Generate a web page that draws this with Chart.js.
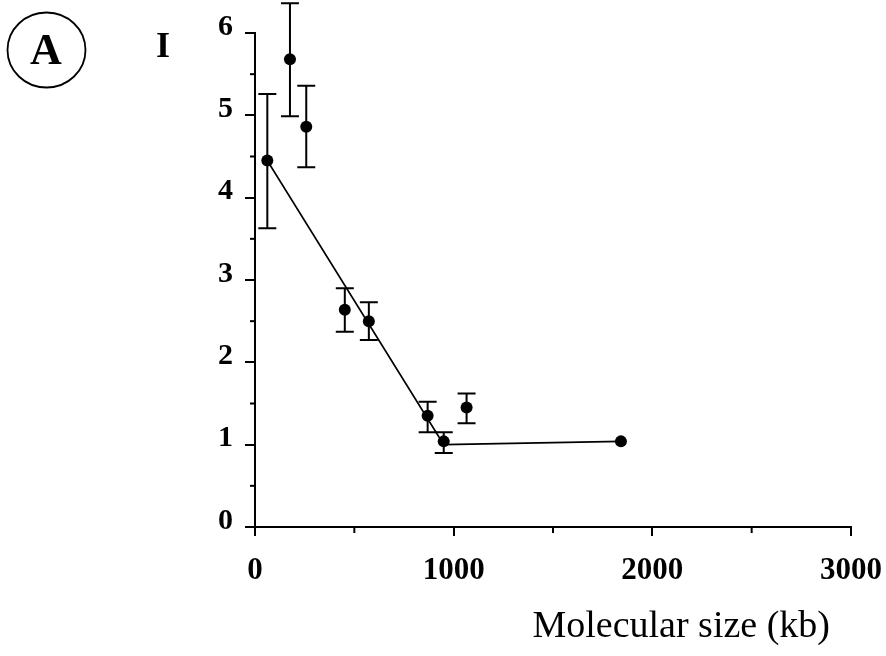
<!DOCTYPE html>
<html>
<head>
<meta charset="utf-8">
<script src="https://cdn.jsdelivr.net/npm/chart.js@4/dist/chart.umd.min.js"></script>
<style>
  html, body { margin: 0; padding: 0; background: #ffffff; }
  #wrap { width: 886px; height: 656px; }
</style>
</head>
<body>
<div id="wrap"><canvas id="c" width="886" height="656"></canvas></div>
<script>
// ---- data ----
const sizes   = [62, 176, 258, 452, 573, 869, 950, 1065, 1842];   // molecular size (kb)
const ratio   = [4.45, 5.68, 4.86, 2.64, 2.50, 1.35, 1.04, 1.45, 1.04];
const errHigh = [5.26, 6.36, 5.36, 2.90, 2.73, 1.52, 1.15, 1.62, null];
const errLow  = [3.63, 4.99, 4.37, 2.37, 2.27, 1.15, 0.90, 1.26, null];
const fitX    = [62, 950, 1842];
const fitY    = [4.45, 1.00, 1.04];
const xTickValues = [0, 1000, 2000, 3000];
const yTickValues = [0, 1, 2, 3, 4, 5, 6];
const xTitle = 'Molecular size (kb)';
const panelLetter = 'A';
const yLabel = 'I';

const serif = '"Liberation Serif", "DejaVu Serif", serif';

const pointData = sizes.map((x, i) => ({ x: x, y: ratio[i] }));
const fitData = fitX.map((x, i) => ({ x: x, y: fitY[i] }));

const decorPlugin = {
  id: 'decor',
  afterDatasetsDraw(chart) {
    const ctx = chart.ctx;
    const xs = chart.scales.x, ys = chart.scales.y;
    ctx.save();
    ctx.strokeStyle = '#000';
    // error bars
    ctx.lineWidth = 2;
    for (let i = 0; i < sizes.length; i++) {
      if (errHigh[i] == null || errLow[i] == null) continue;
      const px = xs.getPixelForValue(sizes[i]);
      const pt = ys.getPixelForValue(errHigh[i]);
      const pb = ys.getPixelForValue(errLow[i]);
      ctx.beginPath();
      ctx.moveTo(px, pt); ctx.lineTo(px, pb);
      ctx.moveTo(px - 9, pt); ctx.lineTo(px + 9, pt);
      ctx.moveTo(px - 9, pb); ctx.lineTo(px + 9, pb);
      ctx.stroke();
    }
    // minor ticks
    ctx.lineWidth = 2;
    for (let v = 0.5; v < 6; v += 1) {
      const py = ys.getPixelForValue(v);
      ctx.beginPath(); ctx.moveTo(ys.right - 5, py); ctx.lineTo(ys.right, py); ctx.stroke();
    }
    for (let v = 500; v < 3000; v += 1000) {
      const px = xs.getPixelForValue(v);
      ctx.beginPath(); ctx.moveTo(px, xs.top); ctx.lineTo(px, xs.top + 6); ctx.stroke();
    }
    // x title
    ctx.fillStyle = '#000';
    ctx.font = '38px ' + serif;
    ctx.textAlign = 'right';
    ctx.textBaseline = 'alphabetic';
    ctx.fillText(xTitle, xs.right - 21, 637);
    // panel letter in circle
    ctx.lineWidth = 1.8;
    ctx.beginPath();
    ctx.ellipse(46.5, 50, 39, 37.5, 0, 0, Math.PI * 2);
    ctx.stroke();
    ctx.font = 'bold 44px ' + serif;
    ctx.textAlign = 'center';
    ctx.fillText(panelLetter, 46, 64);
    // y label
    ctx.font = 'bold 36px ' + serif;
    ctx.fillText(yLabel, 163, 57);
    ctx.restore();
  }
};

new Chart(document.getElementById('c'), {
  type: 'scatter',
  data: {
    datasets: [
      {
        data: fitData,
        showLine: true,
        borderColor: '#000',
        borderWidth: 1.8,
        pointRadius: 0,
        fill: false,
        clip: false,
        order: 2
      },
      {
        data: pointData,
        showLine: false,
        backgroundColor: '#000',
        borderColor: '#000',
        pointRadius: 6,
        pointBorderWidth: 0,
        clip: false,
        order: 1
      }
    ]
  },
  options: {
    responsive: false,
    animation: false,
    devicePixelRatio: 1,
    layout: { padding: { top: 33, right: 35, left: 0, bottom: 0 } },
    plugins: { legend: { display: false }, tooltip: { enabled: false } },
    scales: {
      x: {
        type: 'linear',
        min: 0, max: 3000,
        afterFit(s) { s.height = 129; s.paddingLeft = 0; s.paddingRight = 0; },
        afterBuildTicks(s) { s.ticks = xTickValues.map(v => ({ value: v })); },
        border: { display: true, color: '#000', width: 2 },
        grid: { display: true, drawOnChartArea: false, drawTicks: true, tickLength: 9, color: '#000', lineWidth: 2 },
        ticks: { color: '#000', font: { family: serif, size: 31, weight: 'bold' }, padding: 16, maxRotation: 0,
                 callback: v => String(v) }
      },
      y: {
        type: 'linear',
        min: 0, max: 6,
        afterFit(s) { s.width = 255; s.paddingTop = 0; s.paddingBottom = 0; },
        afterBuildTicks(s) { s.ticks = yTickValues.map(v => ({ value: v })); },
        border: { display: true, color: '#000', width: 2 },
        grid: { display: true, drawOnChartArea: false, drawTicks: true, tickLength: 10, color: '#000', lineWidth: 2 },
        ticks: { color: '#000', font: { family: serif, size: 30, weight: 'bold' }, padding: 12, labelOffset: -6,
                 callback: v => String(v) }
      }
    }
  },
  plugins: [decorPlugin]
});
</script>
</body>
</html>
